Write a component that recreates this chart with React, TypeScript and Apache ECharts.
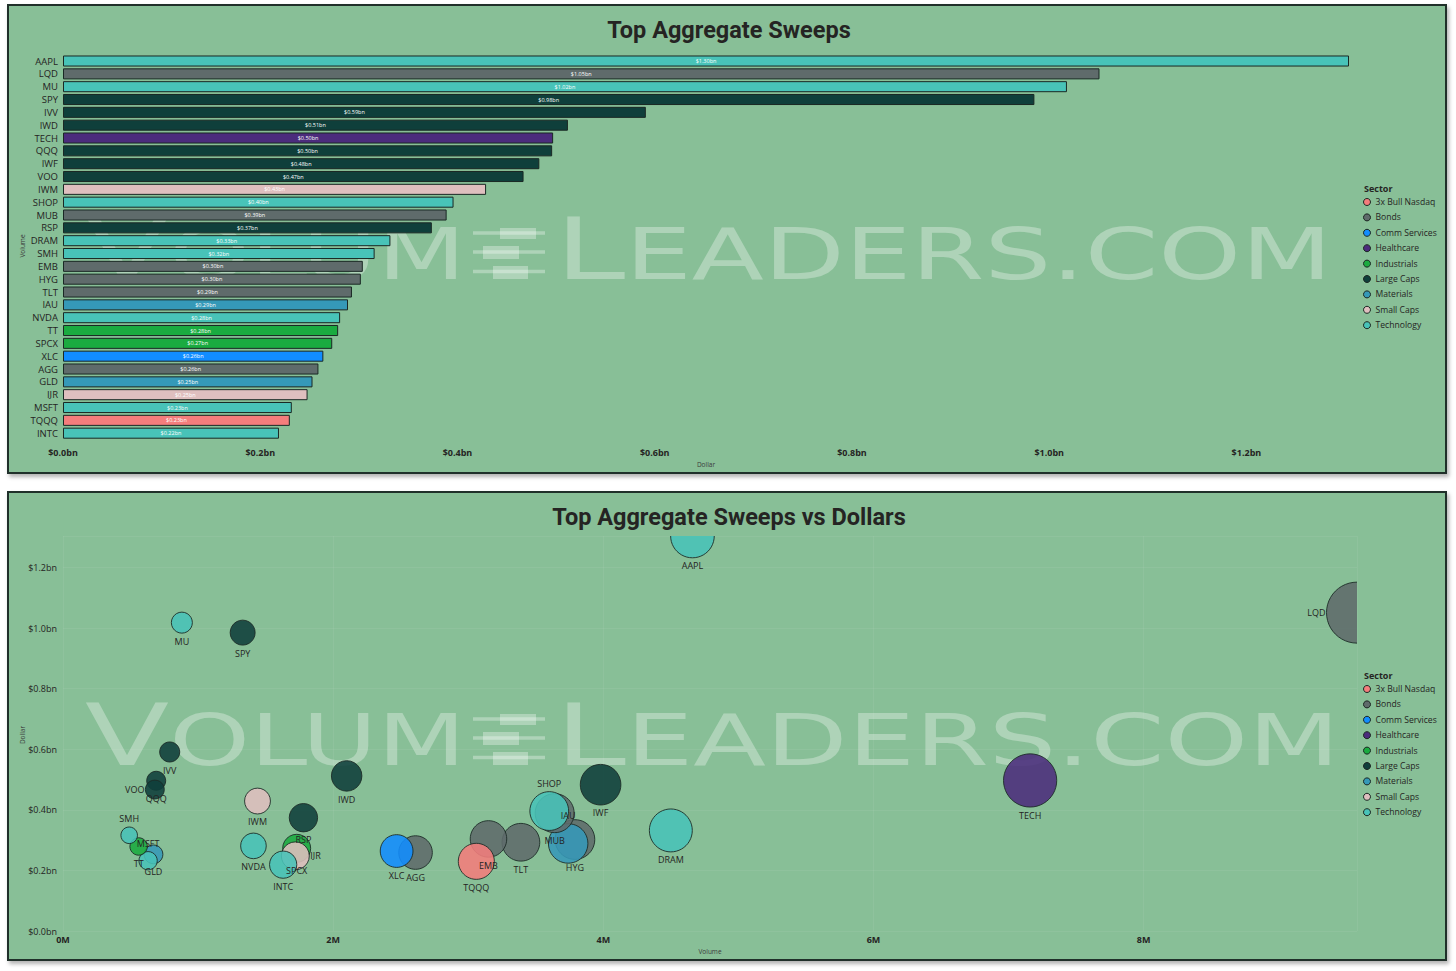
import React, { useEffect, useRef } from 'react';
import * as echarts from 'echarts';

// ---------- DATA ----------
const tickers = ['AAPL', 'LQD', 'MU', 'SPY', 'IVV', 'IWD', 'TECH', 'QQQ', 'IWF', 'VOO', 'IWM', 'SHOP', 'MUB', 'RSP', 'DRAM', 'SMH', 'EMB', 'HYG', 'TLT', 'IAU', 'NVDA', 'TT', 'SPCX', 'XLC', 'AGG', 'GLD', 'IJR', 'MSFT', 'TQQQ', 'INTC'];
const tickerSector = ['Technology', 'Bonds', 'Technology', 'Large Caps', 'Large Caps', 'Large Caps', 'Healthcare', 'Large Caps', 'Large Caps', 'Large Caps', 'Small Caps', 'Technology', 'Bonds', 'Large Caps', 'Technology', 'Technology', 'Bonds', 'Bonds', 'Bonds', 'Materials', 'Technology', 'Industrials', 'Industrials', 'Comm Services', 'Bonds', 'Materials', 'Small Caps', 'Technology', '3x Bull Nasdaq', 'Technology'];
// Dollar value, in billions
const dollarsBn = [1.304, 1.051, 1.018, 0.985, 0.591, 0.512, 0.497, 0.496, 0.483, 0.467, 0.429, 0.396, 0.389, 0.374, 0.332, 0.316, 0.304, 0.302, 0.293, 0.289, 0.281, 0.279, 0.273, 0.264, 0.259, 0.253, 0.248, 0.232, 0.230, 0.219];
// Volume, in millions
const volumesM = [4.66, 9.58, 0.88, 1.33, 0.79, 2.10, 7.16, 0.69, 3.98, 0.68, 1.44, 3.60, 3.64, 1.78, 4.50, 0.49, 3.15, 3.79, 3.39, 3.74, 1.41, 0.56, 1.73, 2.47, 2.61, 0.67, 1.72, 0.63, 3.06, 1.63];

const sectors = ['3x Bull Nasdaq', 'Bonds', 'Comm Services', 'Healthcare', 'Industrials', 'Large Caps', 'Materials', 'Small Caps', 'Technology'];
const sectorColors = ['#F47D7C', '#5F6B6B', '#118DFF', '#4B2C7C', '#1AAB40', '#0F3F3B', '#3599B8', '#DFBFBF', '#48C3B8'];

const dollarTicks = 0.2;
const volumeTicks = 2;

// label placement overrides for the bubble chart (default: below)
const bubbleLabelPos: Record<string, string> = { LQD: 'left', VOO: 'left', SMH: 'top', MSFT: 'top', IJR: 'right', SHOP: 'top', IAU: 'top' };

// ---------- STYLE ----------
const TEXT = '#252423';
const FONT = '"Open Sans", "Noto Sans", sans-serif';
const WM = 'rgba(255,255,255,0.32)';

const measureCtx = (typeof document !== 'undefined' ? document.createElement('canvas').getContext('2d') : null) as CanvasRenderingContext2D | null;
const WM_FAMILY = '"DejaVu Sans"';
const WM_WEIGHT = 'normal';
function measure(t: string, size: number) {
  if (!measureCtx) return t.length * size * 0.7;
  measureCtx.font = `${WM_WEIGHT} ${size}px ${WM_FAMILY}`;
  return measureCtx.measureText(t).width;
}

function watermark(base: number, x0: number, x1: number, x2: number, x3: number) {
  const big = 85;
  const small = 71;
  const els: any[] = [];
  const wV = measure('V', big);
  const wO = measure('OLUM', small);
  const s1 = (x1 - x0) / (wV + wO);
  const wL = measure('L', big);
  const wE = measure('EADERS.COM', small);
  const s2 = (x3 - x2) / (wL + wE);
  const txt = (text: string, x: number, size: number, s: number) => ({
    type: 'text',
    x,
    y: base - 0.346 * size,
    scaleX: s,
    z: 1,
    silent: true,
    style: { text, fontSize: size, fontWeight: WM_WEIGHT, fontFamily: WM_FAMILY, fill: WM, align: 'left', verticalAlign: 'middle' },
  });
  els.push(txt('V', x0, big, s1));
  els.push(txt('OLUM', x0 + wV * s1, small, s1));
  els.push(txt('L', x2, big, s2));
  els.push(txt('EADERS.COM', x2 + wL * s2, small, s2));
  // candlestick icon
  const ix = x1 + 7;
  const lines = [base - 46, base - 27, base - 7.5];
  lines.forEach((ly) => els.push({ type: 'rect', z: 1, silent: true, shape: { x: ix, y: ly - 1.7, width: 72, height: 3.4 }, style: { fill: WM } }));
  const boxes = [
    [ix + 27, base - 51, 36, 11],
    [ix + 10, base - 33, 36, 13],
    [ix + 20, base - 13, 35, 13],
  ];
  boxes.forEach(([bx, by, bw, bh]) => els.push({ type: 'rect', z: 1, silent: true, shape: { x: bx, y: by, width: bw, height: bh }, style: { fill: WM } }));
  return els;
}

function buildOption() {
  const maxDollar = Math.max(...dollarsBn);
  const maxVol = Math.max(...volumesM);

  const barSeries = sectors.map((s, si) => ({
    name: s,
    type: 'bar',
    stack: 'all',
    xAxisIndex: 0,
    yAxisIndex: 0,
    barCategoryGap: '14%',
    itemStyle: { color: sectorColors[si], borderColor: '#1a2824', borderWidth: 1 },
    label: {
      show: true,
      position: 'inside',
      fontSize: 5.5,
      fontFamily: FONT,
      color: '#ffffff',
      formatter: (p: any) => `$${Number(p.value).toFixed(2)}bn`,
    },
    data: tickers.map((t, i) => (tickerSector[i] === s ? dollarsBn[i] : '-')),
  }));

  const bubbleSeries = sectors.map((s, si) => ({
    name: s,
    type: 'custom',
    xAxisIndex: 1,
    yAxisIndex: 1,
    clip: true,
    itemStyle: { color: sectorColors[si] },
    encode: { x: 0, y: 1 },
    data: tickers
      .map((t, i) => ({ i }))
      .filter(({ i }) => tickerSector[i] === s)
      .map(({ i }) => ({ value: [volumesM[i], dollarsBn[i], i] })),
    renderItem: (params: any, api: any) => {
      const v = api.value(0);
      const d = api.value(1);
      const idx = api.value(2);
      const name = tickers[idx];
      const [cx, cy] = api.coord([v, d]);
      const r = 1.8 + 9.27 * Math.sqrt(v);
      const pos = bubbleLabelPos[name] || 'bottom';
      let lx = cx;
      let ly = cy + r + 8;
      let align = 'center';
      if (pos === 'top') ly = cy - r - 8;
      if (pos === 'left') { lx = cx - r - 1; ly = cy; align = 'right'; }
      if (pos === 'right') { lx = cx + r + 1; ly = cy; align = 'left'; }
      return {
        type: 'group',
        children: [
          {
            type: 'circle',
            z2: Math.round(1000 - v * 60),
            shape: { cx, cy, r },
            style: { fill: sectorColors[si], stroke: '#1b2a26', lineWidth: 1, opacity: 0.88 },
          },
          {
            type: 'text',
            z2: 2000,
            x: lx,
            y: ly,
            style: { text: name, fill: TEXT, fontSize: 9, fontFamily: FONT, align, verticalAlign: 'middle' },
          },
        ],
      };
    },
  }));

  const legendBase = {
    data: sectors,
    orient: 'vertical',
    left: 1363,
    padding: 0,
    itemWidth: 7,
    itemHeight: 7,
    itemGap: 3.4,
    icon: 'circle',
    selectedMode: false,
    itemStyle: { borderColor: '#1b2622', borderWidth: 1 },
    textStyle: { fontSize: 8.6, lineHeight: 12, color: TEXT, fontFamily: FONT },
  };

  const smallText = (text: string, x: number, y: number, rot = 0) => ({
    type: 'text',
    x,
    y,
    rotation: rot,
    silent: true,
    style: { text, fontSize: 6.5, fontFamily: FONT, fill: '#3b3b3b', align: 'center', verticalAlign: 'middle' },
  });

  const titleText = (text: string, y: number) => ({
    type: 'text',
    x: 729,
    y,
    silent: true,
    style: { text, fontSize: 23.5, fontWeight: 'bold', fontFamily: 'Roboto, sans-serif', fill: TEXT, align: 'center', verticalAlign: 'middle' },
  });

  const sectorText = (y: number) => ({
    type: 'text',
    x: 1364,
    y,
    silent: true,
    style: { text: 'Sector', fontSize: 9, fontWeight: 'bold', fontFamily: FONT, fill: TEXT, align: 'left', verticalAlign: 'middle' },
  });

  return {
    animation: false,
    backgroundColor: 'transparent',
    textStyle: { fontFamily: FONT },
    grid: [
      { left: 63, top: 54.6, width: 1286, height: 385 },
      { left: 63, top: 536, width: 1294, height: 395 },
    ],
    xAxis: [
      {
        type: 'value',
        gridIndex: 0,
        min: 0,
        max: maxDollar,
        interval: dollarTicks,
        axisLine: { show: false },
        axisTick: { show: false },
        splitLine: { show: false },
        axisLabel: { color: TEXT, fontSize: 9, fontWeight: 'bold', fontFamily: FONT, margin: 8, showMaxLabel: false, formatter: (v: number) => `$${v.toFixed(1)}bn` },
      },
      {
        type: 'value',
        gridIndex: 1,
        min: 0,
        max: maxVol,
        interval: volumeTicks,
        axisLine: { show: false },
        axisTick: { show: false },
        splitLine: { show: true, lineStyle: { color: 'rgba(255,255,255,0.06)', width: 1 } },
        axisLabel: { color: TEXT, fontSize: 9, fontWeight: 'bold', fontFamily: FONT, margin: 4, showMaxLabel: false, formatter: (v: number) => `${v}M` },
      },
    ],
    yAxis: [
      {
        type: 'category',
        gridIndex: 0,
        data: tickers,
        inverse: true,
        axisLine: { show: false },
        axisTick: { show: false },
        splitLine: { show: false },
        axisLabel: { color: TEXT, fontSize: 9.5, fontFamily: FONT, margin: 5, interval: 0 },
      },
      {
        type: 'value',
        gridIndex: 1,
        min: 0,
        max: maxDollar,
        interval: dollarTicks,
        axisLine: { show: false },
        axisTick: { show: false },
        splitLine: { show: true, lineStyle: { color: 'rgba(255,255,255,0.06)', width: 1 } },
        axisLabel: { color: TEXT, fontSize: 9, fontFamily: FONT, margin: 6, showMaxLabel: false, formatter: (v: number) => `$${v.toFixed(1)}bn` },
      },
    ],
    legend: [
      { ...legendBase, top: 196 },
      { ...legendBase, top: 683 },
    ],
    graphic: [
      ...watermark(279, 85, 466, 555, 1332),
      ...watermark(765, 85, 466, 555, 1340),
      titleText('Top Aggregate Sweeps', 30),
      titleText('Top Aggregate Sweeps vs Dollars', 517),
      sectorText(188),
      sectorText(675),
      smallText('Volume', 22, 246, Math.PI / 2),
      smallText('Dollar', 706, 464),
      smallText('Dollar', 22, 735, Math.PI / 2),
      smallText('Volume', 710, 951),
    ],
    series: [...barSeries, ...bubbleSeries],
  };
}

const panelStyle = (top: number, height: number): React.CSSProperties => ({
  position: 'absolute',
  left: 7,
  top,
  width: 1440,
  height,
  background: '#88BF97',
  border: '2px solid #20302a',
  boxSizing: 'border-box',
  boxShadow: '2px 3px 4px rgba(0,0,0,0.3)',
});

export default function App() {
  const ref = useRef<HTMLDivElement>(null);
  useEffect(() => {
    document.body.style.margin = '0';
    const el = ref.current;
    if (!el) return;
    const chart = echarts.init(el, null, { renderer: 'svg' });
    chart.setOption(buildOption() as any);
    return () => {
      chart.dispose();
    };
  }, []);
  return (
    <div style={{ position: 'absolute', left: 0, top: 0, width: 1456, height: 971, background: '#ffffff', overflow: 'hidden' }}>
      <div style={panelStyle(4, 470)} />
      <div style={panelStyle(491, 470)} />
      <div ref={ref} style={{ position: 'absolute', left: 0, top: 0, width: 1456, height: 971 }} />
    </div>
  );
}
